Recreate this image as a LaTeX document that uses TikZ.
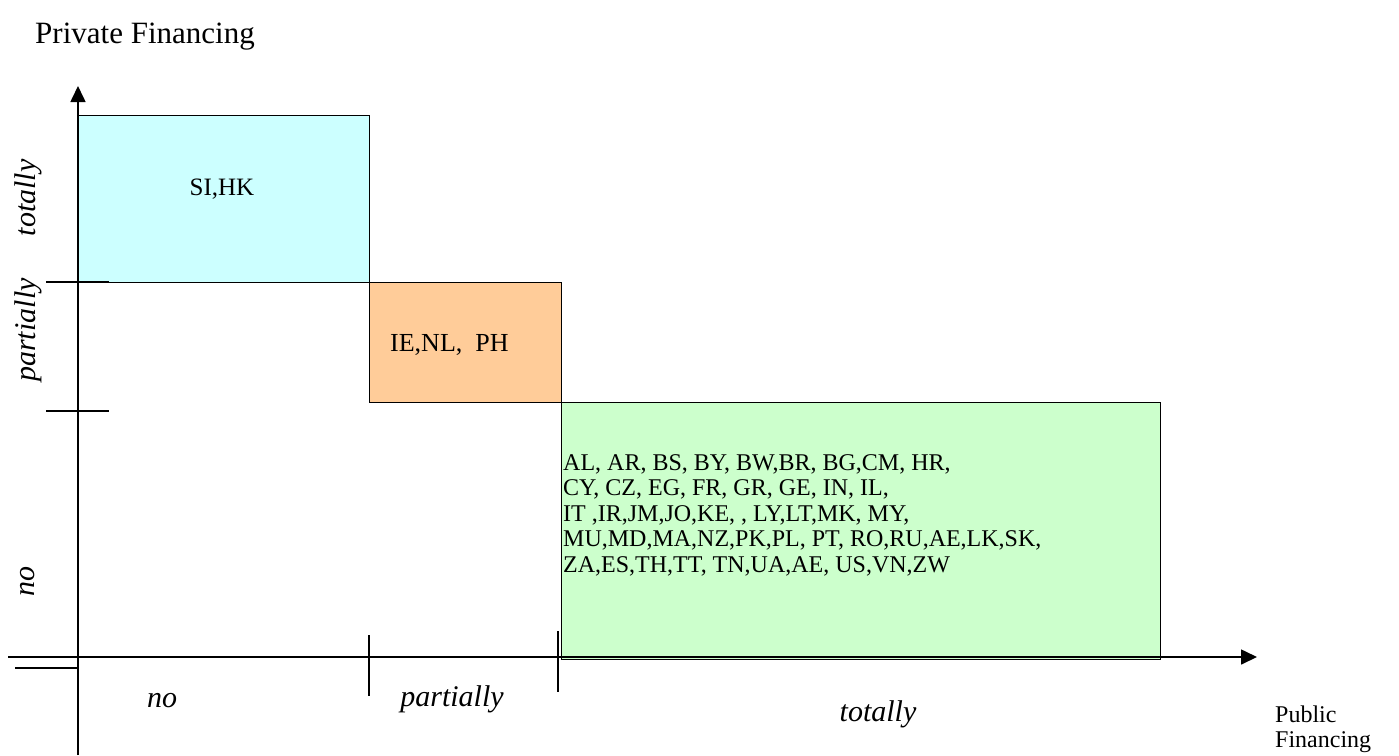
\documentclass[tikz,border=0pt]{standalone}
\usepackage{fontspec}
\setmainfont{Liberation Serif}
\usetikzlibrary{arrows.meta}
\definecolor{cellcyan}{HTML}{CCFFFF}
\definecolor{cellorange}{HTML}{FFCC99}
\definecolor{cellgreen}{HTML}{CCFFCC}
\begin{document}
\begin{tikzpicture}[x=1pt,y=-1pt,
  axisline/.style={line width=1.6pt, draw=black},
  tickline/.style={line width=1.5pt, draw=black},
  cell/.style={draw=black, line width=1.4pt, inner sep=0pt, anchor=north west},
  cellfont/.style={font=\fontsize{24}{28}\selectfont},
  axislabel/.style={font=\fontsize{30}{34}\selectfont\itshape, anchor=base, inner sep=0pt},
  title/.style={inner sep=0pt, anchor=base west},
  tip/.style={-{Triangle[width=15pt,length=16pt]}},
]
\useasboundingbox (0,0) rectangle (1399,755);

% category cells
\node[cell, fill=cellcyan, minimum width=291pt, minimum height=167pt] (cyancell) at (78,115) {};
\node[cell, fill=cellorange, minimum width=192pt, minimum height=120pt] (orangecell) at (369,282) {};
\node[cell, fill=cellgreen, minimum width=599pt, minimum height=257pt] (greencell) at (561,402) {};

% cell contents
\node[font=\fontsize{25}{28}\selectfont, anchor=base, inner sep=0pt] (sihk) at (222,195) {SI,HK};
\node[font=\fontsize{26}{30}\selectfont, anchor=base west, inner sep=0pt] (ienl) at (390,351) {IE,NL,\ \ PH};
\node[cellfont, anchor=base west, inner sep=0pt] (g1) at (563,470) {AL, AR, BS, BY, BW,BR, BG,CM, HR,};
\node[cellfont, anchor=base west, inner sep=0pt] (g2) at (563,495.5) {CY, CZ, EG, FR, GR, GE, IN, IL,};
\node[cellfont, anchor=base west, inner sep=0pt] (g3) at (563,521) {IT ,IR,JM,JO,KE, , LY,LT,MK, MY,};
\node[cellfont, anchor=base west, inner sep=0pt] (g4) at (563,546.5) {MU,MD,MA,NZ,PK,PL, PT, RO,RU,AE,LK,SK,};
\node[cellfont, anchor=base west, inner sep=0pt] (g5) at (563,572) {ZA,ES,TH,TT, TN,UA,AE, US,VN,ZW};

% axes
\coordinate (ybot) at (78,755);
\coordinate (ytop) at (78,86);
\coordinate (xleft) at (8,657);
\coordinate (xright) at (1257,657);
\coordinate (stubL) at (15,668);
\coordinate (stubR) at (78,668);
\draw[axisline, tip] (ybot) -- (ytop);
\draw[axisline, tip] (xleft) -- (xright);
\draw[tickline] (stubL) -- (stubR);

% ticks on the vertical axis
\coordinate (ty1a) at (46,282); \coordinate (ty1b) at (109,282);
\coordinate (ty2a) at (46,411); \coordinate (ty2b) at (109,411);
\draw[tickline] (ty1a) -- (ty1b);
\draw[tickline] (ty2a) -- (ty2b);

% ticks on the horizontal axis
\coordinate (tx1a) at (369,635); \coordinate (tx1b) at (369,696);
\coordinate (tx2a) at (558,631); \coordinate (tx2b) at (558,692);
\draw[tickline] (tx1a) -- (tx1b);
\draw[tickline] (tx2a) -- (tx2b);

% axis category labels
\node[axislabel, rotate=90] (ytot) at (35,198) {totally};
\node[axislabel, rotate=90] (ypart) at (35,330) {partially};
\node[axislabel, rotate=90] (yno) at (34,581) {no};
\node[axislabel] (xno) at (162,707) {no};
\node[axislabel] (xpart) at (452,706) {partially};
\node[axislabel] (xtot) at (878,721) {totally};

% axis titles
\node[title, font=\fontsize{31}{34}\selectfont] (ytitle) at (35,43) {Private Financing};
\node[title, font=\fontsize{24}{26}\selectfont] (xtitle1) at (1275,722) {Public};
\node[title, font=\fontsize{24}{26}\selectfont] (xtitle2) at (1275,747) {Financing};
\end{tikzpicture}
\end{document}
